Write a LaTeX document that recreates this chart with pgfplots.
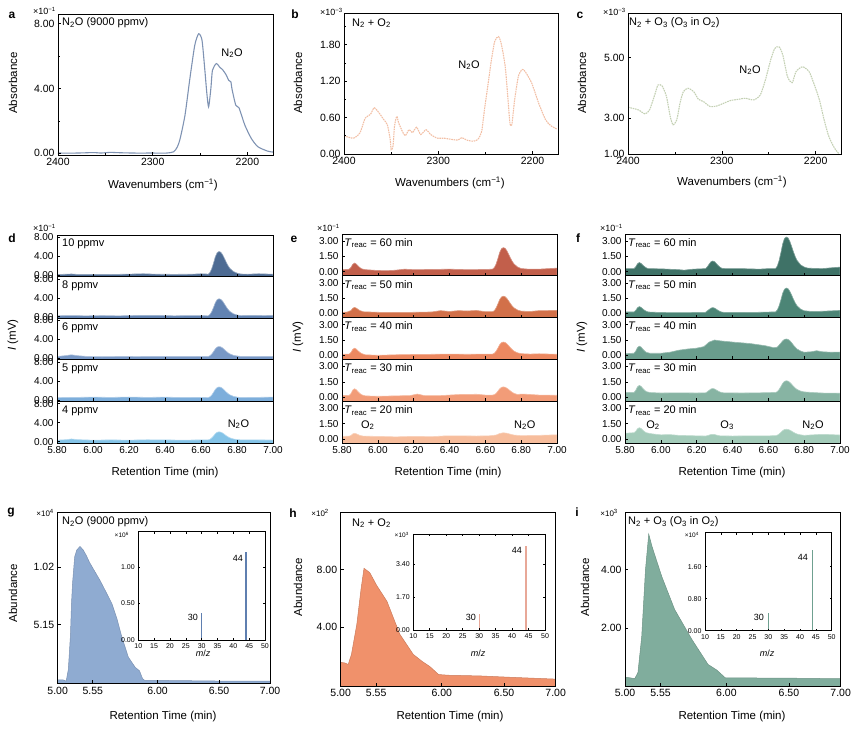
\documentclass[border=0pt]{standalone}
\usepackage{fontspec}
\setmainfont{Liberation Sans}
\usepackage{pgfplots}
\pgfplotsset{compat=1.18}
\definecolor{aline}{HTML}{7F93B3}
\definecolor{bline}{HTML}{F2BFA5}
\definecolor{cline}{HTML}{C3D0B3}
\definecolor{dA}{HTML}{4D6B93}\definecolor{dB}{HTML}{6283B2}\definecolor{dC}{HTML}{7898C6}\definecolor{dD}{HTML}{7DAEDB}\definecolor{dE}{HTML}{84C3E7}
\definecolor{eA}{HTML}{C25F4B}\definecolor{eB}{HTML}{D27049}\definecolor{eC}{HTML}{EC8860}\definecolor{eD}{HTML}{F29C78}\definecolor{eE}{HTML}{F7BD9C}
\definecolor{fA}{HTML}{3F7267}\definecolor{fB}{HTML}{4C8576}\definecolor{fC}{HTML}{6A9D8D}\definecolor{fD}{HTML}{87B4A3}\definecolor{fE}{HTML}{A3CBB9}
\definecolor{gF}{HTML}{8FABD1}\definecolor{hF}{HTML}{F0916B}\definecolor{iF}{HTML}{80AD9D}
\definecolor{gB}{HTML}{5F7FB0}\definecolor{hB}{HTML}{E8A898}\definecolor{iB}{HTML}{6FA090}
\newcommand{\lab}{\fontsize{11.5}{12}\selectfont}
\newcommand{\inn}{\fontsize{11}{12}\selectfont}
\newcommand{\sml}{\fontsize{9}{10}\selectfont}
\newcommand{\letter}{\fontsize{12}{13}\selectfont\bfseries}
\pgfplotsset{
 base/.style={scale only axis, anchor=north west, axis on top,
   axis line style={line width=0.8pt,black},
   tick align=inside, major tick length=3pt, minor tick length=1.8pt,
   every tick/.append style={black,line width=0.6pt},
   xtick pos=bottom, ytick pos=left,
   tick label style={font=\fontsize{10.5}{11}\selectfont},
   /pgf/number format/assume math mode=true},
 spec/.style={base, x dir=reverse, xmin=2173, xmax=2400, xtick={2200,2300,2400}, xticklabels={2200,2300,2400}, minor xtick={2250,2350}},
 stk/.style={base, xmin=5.8, xmax=7.0, xtick={5.8,6.0,6.2,6.4,6.6,6.8,7.0}, xticklabels={}, tick label style={font=\fontsize{10}{10}\selectfont}},
 stkd/.style={stk, width=216pt, height=41.6pt, ymin=-0.3, ymax=8.5, ytick={0,4,8}, yticklabels={0.00,4.00,8.00}},
 stke/.style={stk, width=215pt, height=41.8pt, ymin=-0.4, ymax=3.7, ytick={0,1.5,3}, yticklabels={0.00,1.50,3.00}},
 botx/.style={xticklabels={5.80,6.00,6.20,6.40,6.60,6.80,7.00}},
 ret/.style={base, xmin=5.0, xmax=7.0, ymin=0, xtick={5.0,5.33,5.94,6.52,7.0}, xticklabels={5.00,5.55,6.00,6.50,7.00}},
 ins/.style={base, xmin=10, xmax=50, ymin=0, xtick={10,15,20,25,30,35,40,45,50}, xticklabels={10,15,20,25,30,35,40,45,50},
   xtick pos=both, ytick pos=both, major tick length=2pt, axis background/.style={fill=white},
   tick label style={font=\fontsize{7}{7}\selectfont}, axis line style={line width=0.7pt,black}},
}
\begin{document}
\begin{tikzpicture}
\path[use as bounding box] (0,0) rectangle (864pt,730pt);
% ---------------- a ----------------
\begin{axis}[spec, at={(58pt,716pt)}, width=215pt, height=141pt, ymin=-0.1, ymax=8.6, ytick={0,4,8}, yticklabels={0.00,4.00,8.00}, minor ytick={2,6}]
\addplot[aline, line width=1.1pt, smooth, tension=0.4] coordinates {
(2400,0.02) (2380,0.02) (2362,0.05) (2355,0.02) (2345,0.06) (2335,0.04) (2320,0.02) (2300,0.02) (2285,0.02)
(2277.8,0.1) (2274,0.4) (2271,0.92) (2265.9,2.36) (2260.8,4.6) (2255.6,6.67) (2251.5,7.38) (2248,7.0) (2245.4,5.44)
(2243,3.8) (2241,2.87) (2238.6,4.0) (2236.9,5.13) (2232.8,5.54) (2229,5.3) (2226.6,5.19) (2222.5,4.85) (2219.8,4.51) (2217.4,4.41)
(2216.4,4.0) (2212.3,2.97) (2208.9,2.81) (2202.7,1.74) (2195.9,0.92) (2189,0.41) (2178.8,0.14) (2173,0.08)};
\end{axis}
% ---------------- b ----------------
\begin{axis}[spec, at={(344pt,717pt)}, width=214pt, height=141pt, ymin=0, ymax=2.32, ytick={0,0.6,1.2,1.8}, yticklabels={0.00,0.60,1.20,1.80}, minor ytick={0.3,0.9,1.5,2.1}]
\addplot[bline, line width=1.1pt, dash pattern=on 1.6pt off 0.8pt, smooth, tension=0.4] coordinates {
(2400,0.30) (2390,0.26) (2383,0.35) (2377.5,0.59) (2372,0.65) (2368,0.76) (2363,0.68) (2358,0.57) (2354,0.48) (2351,0.24)
(2350,0.07) (2348,0.13) (2346.4,0.46) (2344,0.62) (2342,0.51) (2338,0.37) (2335,0.30) (2331,0.40) (2327.5,0.35) (2323,0.44)
(2318.6,0.32) (2313,0.40) (2308,0.32) (2301,0.26) (2294,0.26) (2286,0.24) (2279,0.23) (2275,0.27) (2270,0.23) (2263,0.21)
(2258,0.24) (2254,0.37) (2251,0.73) (2247,1.17) (2243.6,1.55) (2240,1.86) (2236,1.93) (2233,1.80) (2229,1.44) (2226,0.89)
(2224,0.51) (2222,0.48) (2219,0.89) (2215,1.28) (2211,1.39) (2208,1.36) (2201,1.17) (2193.6,0.84) (2186.4,0.57) (2181,0.47) (2174,0.41)};
\end{axis}
% ---------------- c ----------------
\begin{axis}[spec, at={(628pt,717pt)}, width=213pt, height=141pt, ymin=0, ymax=4.25, ytick={0,1.08,2.90}, yticklabels={1.00,3.00,5.00}]
\addplot[cline, line width=1.1pt, dash pattern=on 1.6pt off 0.8pt, smooth, tension=0.4] coordinates {
(2400,1.41) (2389,1.33) (2382,1.21) (2377,1.33) (2371,1.83) (2368,2.08) (2363.6,2.05) (2359,1.73) (2355,1.13) (2352,0.88)
(2348,1.03) (2344.6,1.53) (2341,1.88) (2336,1.98) (2330,1.88) (2325,1.65) (2319.6,1.58) (2312.5,1.43) (2305,1.45) (2298,1.53)
(2291,1.61) (2282,1.65) (2275,1.68) (2266,1.63) (2259,1.78) (2253.6,2.23) (2248,2.83) (2243.6,3.18) (2239,3.23) (2235,2.98)
(2230,2.33) (2225,2.15) (2221,2.48) (2214,2.63) (2207,2.48) (2202,2.13) (2196,1.63) (2191,1.03) (2186,0.53) (2180,0.18) (2175,0.0)};
\end{axis}
% ---------------- d ----------------
\begin{axis}[stkd, at={(57pt,495pt)}]
\addplot[fill=dA, draw=dA!60!white, line width=0.6pt] coordinates {(5.80,-0.3) (5.80,0.15) (5.85,0.2) (5.88,0.25) (5.92,0.15) (6.00,0.18) (6.10,0.15) (6.20,0.22) (6.28,0.3) (6.35,0.2) (6.45,0.18) (6.55,0.2) (6.60,0.3) (6.63,0.25) (6.64,0.2) (6.65,0.58) (6.66,1.4) (6.67,2.6) (6.68,3.94) (6.69,4.76) (6.70,5.0) (6.71,4.86) (6.72,4.33) (6.73,3.56) (6.74,2.74) (6.75,2.02) (6.76,1.45) (6.78,0.78) (6.80,0.44) (6.82,0.25) (6.86,0.2) (6.92,0.3) (7.00,0.2) (7.00,-0.3)};
\node[anchor=west, inner sep=0pt, font=\inn] at (rel axis cs:0.023,0.78) {10 ppmv};
\end{axis}
\begin{axis}[stkd, at={(57pt,453.4pt)}]
\addplot[fill=dB, draw=dB!60!white, line width=0.6pt] coordinates {(5.80,-0.3) (5.80,0.2) (5.88,0.25) (5.95,0.2) (6.05,0.22) (6.15,0.2) (6.25,0.28) (6.35,0.3) (6.45,0.2) (6.55,0.25) (6.62,0.22) (6.64,0.2) (6.65,0.49) (6.66,1.1) (6.67,2.0) (6.68,3.01) (6.69,3.62) (6.70,3.8) (6.71,3.69) (6.72,3.3) (6.73,2.72) (6.74,2.11) (6.75,1.57) (6.76,1.14) (6.78,0.63) (6.80,0.38) (6.82,0.25) (6.88,0.3) (6.95,0.25) (7.00,0.28) (7.00,-0.3)};
\node[anchor=west, inner sep=0pt, font=\inn] at (rel axis cs:0.023,0.78) {8 ppmv};
\end{axis}
\begin{axis}[stkd, at={(57pt,411.8pt)}]
\addplot[fill=dC, draw=dC!60!white, line width=0.6pt] coordinates {(5.80,-0.3) (5.80,0.4) (5.84,0.55) (5.88,0.75) (5.92,0.55) (5.97,0.4) (6.05,0.35) (6.15,0.4) (6.25,0.38) (6.35,0.42) (6.45,0.4) (6.55,0.4) (6.62,0.42) (6.64,0.4) (6.65,0.57) (6.66,0.93) (6.67,1.45) (6.68,2.04) (6.69,2.4) (6.70,2.5) (6.71,2.44) (6.72,2.21) (6.73,1.87) (6.74,1.51) (6.75,1.2) (6.76,0.95) (6.78,0.65) (6.80,0.51) (6.82,0.42) (6.90,0.4) (7.00,0.42) (7.00,-0.3)};
\node[anchor=west, inner sep=0pt, font=\inn] at (rel axis cs:0.023,0.78) {6 ppmv};
\end{axis}
\begin{axis}[stkd, at={(57pt,370.2pt)}]
\addplot[fill=dD, draw=dD!60!white, line width=0.6pt] coordinates {(5.80,-0.3) (5.80,0.5) (5.90,0.55) (6.00,0.6) (6.10,0.55) (6.20,0.62) (6.30,0.55) (6.40,0.6) (6.50,0.52) (6.60,0.55) (6.64,0.5) (6.65,0.68) (6.66,1.06) (6.67,1.63) (6.68,2.26) (6.69,2.64) (6.70,2.75) (6.71,2.68) (6.72,2.44) (6.73,2.08) (6.74,1.69) (6.75,1.36) (6.76,1.09) (6.78,0.77) (6.80,0.61) (6.82,0.52) (6.90,0.55) (7.00,0.6) (7.00,-0.3)};
\node[anchor=west, inner sep=0pt, font=\inn] at (rel axis cs:0.023,0.78) {5 ppmv};
\end{axis}
\begin{axis}[stkd, botx, at={(57pt,328.6pt)}]
\addplot[fill=dE, draw=dE!60!white, line width=0.6pt] coordinates {(5.80,-0.3) (5.80,0.3) (5.85,0.4) (5.88,0.55) (5.92,0.4) (6.00,0.3) (6.10,0.35) (6.20,0.3) (6.30,0.38) (6.40,0.35) (6.50,0.3) (6.60,0.35) (6.64,0.35) (6.65,0.49) (6.66,0.78) (6.67,1.2) (6.68,1.68) (6.69,1.97) (6.70,2.05) (6.71,2.0) (6.72,1.81) (6.73,1.54) (6.74,1.25) (6.75,1.0) (6.76,0.79) (6.78,0.55) (6.80,0.44) (6.82,0.36) (6.90,0.35) (7.00,0.32) (7.00,-0.3)};
\node[anchor=west, inner sep=0pt, font=\inn] at (rel axis cs:0.023,0.78) {4 ppmv};
\node[font=\inn] at (rel axis cs:0.84,0.45) {N\textsubscript{2}O};
\end{axis}
% ---------------- e ----------------
\begin{axis}[stke, at={(342pt,496pt)}]
\addplot[fill=eA, draw=eA!70!white, line width=0.6pt] coordinates {(5.80,-0.4) (5.80,0.2) (5.83,0.22) (5.84,0.25) (5.85,0.42) (5.86,0.72) (5.87,0.85) (5.88,0.75) (5.89,0.56) (5.90,0.4) (5.91,0.28) (5.93,0.2) (6.00,0.12) (6.05,0.1) (6.10,0.15) (6.15,0.25) (6.20,0.2) (6.30,0.22) (6.40,0.25) (6.50,0.2) (6.60,0.22) (6.64,0.25) (6.65,0.4) (6.66,0.74) (6.67,1.28) (6.68,1.88) (6.69,2.25) (6.70,2.36) (6.71,2.3) (6.72,2.06) (6.73,1.71) (6.74,1.34) (6.75,1.02) (6.76,0.76) (6.78,0.46) (6.80,0.31) (6.84,0.25) (6.90,0.25) (6.95,0.3) (7.00,0.35) (7.00,-0.4)};
\node[anchor=west, inner sep=0pt, font=\inn] at (rel axis cs:0.01,0.78) {\textit{T}\textsubscript{reac} = 60 min};
\end{axis}
\begin{axis}[stke, at={(342pt,454.2pt)}]
\addplot[fill=eB, draw=eB!70!white, line width=0.6pt] coordinates {(5.80,-0.4) (5.80,0.1) (5.83,0.15) (5.85,0.29) (5.86,0.51) (5.87,0.6) (5.88,0.53) (5.89,0.4) (5.90,0.29) (5.92,0.17) (6.00,0.12) (6.10,0.1) (6.20,0.12) (6.30,0.15) (6.35,0.28) (6.40,0.2) (6.45,0.28) (6.50,0.25) (6.55,0.3) (6.60,0.18) (6.64,0.18) (6.65,0.27) (6.66,0.54) (6.67,0.93) (6.68,1.36) (6.69,1.62) (6.70,1.7) (6.71,1.65) (6.72,1.48) (6.73,1.24) (6.74,0.97) (6.75,0.74) (6.76,0.55) (6.78,0.34) (6.80,0.23) (6.85,0.2) (6.90,0.28) (7.00,0.3) (7.00,-0.4)};
\node[anchor=west, inner sep=0pt, font=\inn] at (rel axis cs:0.01,0.78) {\textit{T}\textsubscript{reac} = 50 min};
\end{axis}
\begin{axis}[stke, at={(342pt,412.4pt)}]
\addplot[fill=eC, draw=eC!70!white, line width=0.6pt] coordinates {(5.80,-0.4) (5.80,0.1) (5.84,0.12) (5.85,0.28) (5.86,0.58) (5.87,0.7) (5.88,0.61) (5.89,0.43) (5.90,0.28) (5.91,0.17) (5.93,0.05) (6.00,0.0) (6.10,0.05) (6.20,0.08) (6.30,0.1) (6.40,0.12) (6.50,0.1) (6.60,0.12) (6.64,0.12) (6.65,0.2) (6.66,0.4) (6.67,0.7) (6.68,1.04) (6.69,1.24) (6.70,1.3) (6.71,1.26) (6.72,1.13) (6.73,0.94) (6.74,0.74) (6.75,0.56) (6.76,0.41) (6.78,0.24) (6.80,0.16) (6.85,0.12) (6.90,0.15) (7.00,0.1) (7.00,-0.4)};
\node[anchor=west, inner sep=0pt, font=\inn] at (rel axis cs:0.01,0.78) {\textit{T}\textsubscript{reac} = 40 min};
\end{axis}
\begin{axis}[stke, at={(342pt,370.6pt)}]
\addplot[fill=eD, draw=eD!70!white, line width=0.6pt] coordinates {(5.80,-0.4) (5.80,0.15) (5.84,0.17) (5.85,0.35) (5.86,0.69) (5.87,0.82) (5.88,0.72) (5.89,0.52) (5.90,0.35) (5.91,0.23) (5.93,0.12) (6.00,0.08) (6.10,0.12) (6.18,0.15) (6.22,0.3) (6.26,0.15) (6.35,0.15) (6.45,0.25) (6.55,0.28) (6.60,0.2) (6.64,0.2) (6.65,0.24) (6.66,0.36) (6.67,0.58) (6.68,0.81) (6.69,0.96) (6.70,1.0) (6.71,0.97) (6.72,0.88) (6.73,0.75) (6.74,0.6) (6.75,0.47) (6.76,0.37) (6.78,0.25) (6.80,0.3) (6.83,0.28) (6.90,0.2) (7.00,0.18) (7.00,-0.4)};
\node[anchor=west, inner sep=0pt, font=\inn] at (rel axis cs:0.01,0.78) {\textit{T}\textsubscript{reac} = 30 min};
\end{axis}
\begin{axis}[stke, botx, at={(342pt,328.8pt)}]
\addplot[fill=eE, draw=eE!70!white, line width=0.6pt] coordinates {(5.80,-0.4) (5.80,0.25) (5.84,0.27) (5.85,0.34) (5.86,0.49) (5.87,0.55) (5.88,0.5) (5.89,0.42) (5.90,0.34) (5.92,0.27) (6.00,0.25) (6.10,0.2) (6.20,0.25) (6.30,0.22) (6.38,0.3) (6.45,0.3) (6.55,0.28) (6.62,0.3) (6.66,0.38) (6.68,0.53) (6.70,0.6) (6.72,0.56) (6.74,0.46) (6.76,0.38) (6.80,0.32) (6.90,0.35) (7.00,0.4) (7.00,-0.4)};
\node[anchor=west, inner sep=0pt, font=\inn] at (rel axis cs:0.01,0.78) {\textit{T}\textsubscript{reac} = 20 min};
\node[font=\inn] at (rel axis cs:0.12,0.43) {O\textsubscript{2}};
\node[font=\inn] at (rel axis cs:0.85,0.43) {N\textsubscript{2}O};
\end{axis}
% ---------------- f ----------------
\begin{axis}[stke, at={(625pt,496pt)}]
\addplot[fill=fA, draw=fA!70!white, line width=0.6pt] coordinates {(5.80,-0.4) (5.80,0.3) (5.85,0.3) (5.86,0.48) (5.87,0.78) (5.88,0.9) (5.89,0.81) (5.90,0.63) (5.91,0.48) (5.92,0.37) (5.93,0.3) (6.00,0.28) (6.10,0.2) (6.13,0.15) (6.18,0.25) (6.25,0.3) (6.26,0.49) (6.27,0.75) (6.28,0.98) (6.29,1.05) (6.30,0.98) (6.31,0.79) (6.32,0.6) (6.33,0.45) (6.34,0.34) (6.36,0.3) (6.45,0.3) (6.55,0.25) (6.60,0.3) (6.64,0.3) (6.65,0.55) (6.66,1.08) (6.67,1.85) (6.68,2.72) (6.69,3.25) (6.70,3.4) (6.71,3.31) (6.72,2.97) (6.73,2.47) (6.74,1.94) (6.75,1.48) (6.76,1.11) (6.78,0.67) (6.80,0.46) (6.82,0.35) (6.90,0.3) (6.95,0.38) (7.00,0.45) (7.00,-0.4)};
\node[anchor=west, inner sep=0pt, font=\inn] at (rel axis cs:0.014,0.78) {\textit{T}\textsubscript{reac} = 60 min};
\end{axis}
\begin{axis}[stke, at={(625pt,454.2pt)}]
\addplot[fill=fB, draw=fB!70!white, line width=0.6pt] coordinates {(5.80,-0.4) (5.80,0.15) (5.85,0.15) (5.86,0.31) (5.87,0.57) (5.88,0.68) (5.89,0.6) (5.90,0.44) (5.91,0.31) (5.92,0.21) (5.93,0.15) (6.00,0.1) (6.10,0.08) (6.20,0.1) (6.25,0.12) (6.26,0.27) (6.27,0.4) (6.28,0.53) (6.29,0.58) (6.30,0.53) (6.31,0.42) (6.32,0.3) (6.33,0.21) (6.34,0.14) (6.36,0.1) (6.45,0.1) (6.55,0.12) (6.62,0.15) (6.64,0.15) (6.65,0.34) (6.66,0.74) (6.67,1.33) (6.68,1.98) (6.69,2.38) (6.70,2.5) (6.71,2.43) (6.72,2.17) (6.73,1.8) (6.74,1.4) (6.75,1.04) (6.76,0.76) (6.78,0.43) (6.80,0.27) (6.84,0.2) (6.90,0.22) (7.00,0.3) (7.00,-0.4)};
\node[anchor=west, inner sep=0pt, font=\inn] at (rel axis cs:0.014,0.78) {\textit{T}\textsubscript{reac} = 50 min};
\end{axis}
\begin{axis}[stke, at={(625pt,412.4pt)}]
\addplot[fill=fC, draw=fC!70!white, line width=0.6pt] coordinates {(5.80,-0.4) (5.80,0.15) (5.84,0.2) (5.85,0.2) (5.86,0.41) (5.87,0.76) (5.88,0.9) (5.89,0.8) (5.90,0.59) (5.91,0.41) (5.92,0.28) (5.94,0.2) (6.00,0.2) (6.05,0.3) (6.10,0.5) (6.15,0.62) (6.20,0.7) (6.24,0.85) (6.27,1.3) (6.30,1.5) (6.33,1.42) (6.40,1.3) (6.50,1.15) (6.58,0.95) (6.63,0.75) (6.65,0.8) (6.66,1.0) (6.67,1.2) (6.68,1.42) (6.69,1.56) (6.70,1.6) (6.71,1.56) (6.72,1.43) (6.73,1.23) (6.74,1.0) (6.75,0.8) (6.76,0.62) (6.78,0.42) (6.80,0.3) (6.84,0.35) (6.87,0.45) (6.90,0.35) (6.95,0.3) (7.00,0.32) (7.00,-0.4)};
\node[anchor=west, inner sep=0pt, font=\inn] at (rel axis cs:0.014,0.78) {\textit{T}\textsubscript{reac} = 40 min};
\end{axis}
\begin{axis}[stke, at={(625pt,370.6pt)}]
\addplot[fill=fD, draw=fD!70!white, line width=0.6pt] coordinates {(5.80,-0.4) (5.80,0.45) (5.85,0.45) (5.86,0.66) (5.87,1.01) (5.88,1.15) (5.89,1.05) (5.90,0.84) (5.91,0.66) (5.92,0.53) (5.94,0.45) (6.00,0.4) (6.10,0.42) (6.20,0.4) (6.25,0.42) (6.26,0.53) (6.27,0.67) (6.28,0.8) (6.29,0.84) (6.30,0.8) (6.31,0.69) (6.32,0.59) (6.33,0.5) (6.35,0.42) (6.45,0.4) (6.55,0.42) (6.62,0.45) (6.64,0.45) (6.65,0.54) (6.66,0.74) (6.67,1.03) (6.68,1.35) (6.69,1.54) (6.70,1.6) (6.71,1.57) (6.72,1.44) (6.73,1.26) (6.74,1.06) (6.75,0.89) (6.76,0.75) (6.78,0.59) (6.80,0.51) (6.85,0.45) (6.90,0.4) (7.00,0.38) (7.00,-0.4)};
\node[anchor=west, inner sep=0pt, font=\inn] at (rel axis cs:0.014,0.78) {\textit{T}\textsubscript{reac} = 30 min};
\end{axis}
\begin{axis}[stke, botx, at={(625pt,328.8pt)}]
\addplot[fill=fE, draw=fE!70!white, line width=0.6pt] coordinates {(5.80,-0.4) (5.80,0.55) (5.84,0.6) (5.85,0.6) (5.86,0.75) (5.87,1.0) (5.88,1.1) (5.89,1.02) (5.90,0.85) (5.91,0.7) (5.92,0.6) (5.95,0.5) (6.00,0.4) (6.05,0.42) (6.10,0.35) (6.20,0.3) (6.25,0.28) (6.26,0.32) (6.27,0.38) (6.28,0.43) (6.29,0.45) (6.30,0.43) (6.31,0.38) (6.33,0.3) (6.40,0.28) (6.50,0.3) (6.60,0.3) (6.64,0.32) (6.65,0.37) (6.66,0.48) (6.67,0.64) (6.68,0.81) (6.69,0.92) (6.70,0.95) (6.71,0.93) (6.72,0.86) (6.73,0.76) (6.74,0.65) (6.75,0.56) (6.76,0.48) (6.78,0.4) (6.80,0.35) (6.85,0.4) (6.90,0.45) (6.95,0.42) (7.00,0.38) (7.00,-0.4)};
\node[anchor=west, inner sep=0pt, font=\inn] at (rel axis cs:0.014,0.78) {\textit{T}\textsubscript{reac} = 20 min};
\node[font=\inn] at (rel axis cs:0.13,0.43) {O\textsubscript{2}};
\node[font=\inn] at (rel axis cs:0.475,0.43) {O\textsubscript{3}};
\node[font=\inn] at (rel axis cs:0.875,0.43) {N\textsubscript{2}O};
\end{axis}
% ---------------- g ----------------
\begin{axis}[ret, at={(57.7pt,217.7pt)}, width=212.3pt, height=171pt, ymax=1.5, ytick={0.515,1.02}, yticklabels={5.15,1.02}]
\addplot[fill=gF, draw=gF!85!black, line width=0.5pt] coordinates {(5.00,0) (5.00,0.03) (5.05,0.03) (5.08,0.02) (5.10,0.12) (5.12,0.42) (5.13,0.70) (5.14,0.88) (5.16,1.11) (5.18,1.17) (5.21,1.2) (5.24,1.17) (5.27,1.12) (5.30,1.06) (5.35,0.98) (5.40,0.90) (5.45,0.81) (5.51,0.70) (5.56,0.56) (5.60,0.42) (5.665,0.23) (5.73,0.14) (5.77,0.11) (5.80,0.04) (5.82,0.025) (6.0,0.025) (6.5,0.02) (7.0,0.02) (7.0,0)};
\end{axis}
\begin{axis}[ins, at={(138.3pt,198.3pt)}, width=126.7pt, height=108.3pt, ymax=1.48, ytick={0,0.5,1.0}, yticklabels={0.00,0.50,1.00}]
\addplot[ycomb, gB, line width=1.1pt] coordinates {(30,0.37) (44,1.2)};
\end{axis}
% ---------------- h ----------------
\begin{axis}[ret, at={(340.7pt,217.7pt)}, width=215pt, height=173.7pt, ymin=-0.1, ymax=12, ytick={4,8}, yticklabels={4.00,8.00}]
\addplot[fill=hF, draw=hF!85!black, line width=0.5pt] coordinates {(5.00,-0.1) (5.00,1.55) (5.04,1.5) (5.07,1.4) (5.10,2.1) (5.15,4.2) (5.19,6.7) (5.217,8.1) (5.27,7.8) (5.335,6.9) (5.43,5.8) (5.55,3.5) (5.675,2.1) (5.76,1.6) (5.83,1.25) (5.91,0.7) (6.0,0.65) (6.3,0.6) (6.6,0.5) (7.0,0.38) (7.0,-0.1)};
\end{axis}
\begin{axis}[ins, at={(413.3pt,196pt)}, width=131.7pt, height=96pt, ymax=4.95, ytick={0,1.7,3.4}, yticklabels={0.00,1.70,3.40}]
\addplot[ycomb, hB, line width=1.3pt] coordinates {(30,0.82) (44.2,4.33)};
\end{axis}
% ---------------- i ----------------
\begin{axis}[ret, at={(625pt,217.7pt)}, width=215.7pt, height=173.7pt, ymin=0, ymax=5.97, ytick={2,4}, yticklabels={2.00,4.00}]
\addplot[fill=iF, draw=iF!85!black, line width=0.5pt] coordinates {(5.00,0) (5.00,0.3) (5.05,0.28) (5.09,0.25) (5.12,0.46) (5.155,1.7) (5.19,4.0) (5.22,5.22) (5.25,4.8) (5.34,3.77) (5.46,2.63) (5.62,1.6) (5.77,0.74) (5.85,0.55) (5.93,0.28) (6.5,0.27) (7.0,0.25) (7.0,0)};
\end{axis}
\begin{axis}[ins, at={(705pt,197.3pt)}, width=126.7pt, height=98pt, ymax=2.45, ytick={0,0.8,1.6}, yticklabels={0.00,0.80,1.60}]
\addplot[ycomb, iB, line width=1.1pt] coordinates {(30,0.45) (43.9,2.02)};
\end{axis}
% ---------------- texts ----------------
\node[font=\letter] at (12pt,715pt) {a};
\node[font=\letter] at (295pt,716pt) {b};
\node[font=\letter] at (580pt,715pt) {c};
\node[font=\letter] at (12pt,492pt) {d};
\node[font=\letter] at (294pt,491pt) {e};
\node[font=\letter] at (578pt,492pt) {f};
\node[font=\letter] at (11pt,217pt) {g};
\node[font=\letter] at (293pt,217pt) {h};
\node[font=\letter] at (577pt,218pt) {i};
% multipliers
\node[font=\sml, anchor=east, inner sep=0pt] at (56pt,719pt) {×10\textsuperscript{−1}};
\node[font=\sml, anchor=east, inner sep=0pt] at (343pt,718pt) {×10\textsuperscript{−3}};
\node[font=\sml, anchor=east, inner sep=0pt] at (626pt,718pt) {×10\textsuperscript{−3}};
\node[font=\sml, anchor=east, inner sep=0pt] at (56pt,502pt) {×10\textsuperscript{−1}};
\node[font=\sml, anchor=east, inner sep=0pt] at (340pt,502pt) {×10\textsuperscript{−1}};
\node[font=\sml, anchor=east, inner sep=0pt] at (623pt,502pt) {×10\textsuperscript{−1}};
\node[font=\fontsize{8}{9}\selectfont, anchor=east, inner sep=0pt] at (54pt,217pt) {×10\textsuperscript{4}};
\node[font=\fontsize{8}{9}\selectfont, anchor=east, inner sep=0pt] at (329pt,217pt) {×10\textsuperscript{2}};
\node[font=\fontsize{8}{9}\selectfont, anchor=east, inner sep=0pt] at (618pt,217pt) {×10\textsuperscript{3}};
\node[font=\fontsize{6.5}{7}\selectfont, anchor=east, inner sep=0pt] at (129pt,195pt) {×10\textsuperscript{6}};
\node[font=\fontsize{6.5}{7}\selectfont, anchor=east, inner sep=0pt] at (409pt,195pt) {×10\textsuperscript{3}};
\node[font=\fontsize{6.5}{7}\selectfont, anchor=east, inner sep=0pt] at (699pt,195pt) {×10\textsuperscript{4}};
% axis labels
\node[font=\lab, rotate=90] at (13pt,647pt) {Absorbance};
\node[font=\lab, rotate=90] at (298pt,647pt) {Absorbance};
\node[font=\lab, rotate=90] at (582pt,647pt) {Absorbance};
\node[font=\lab] at (163pt,545pt) {Wavenumbers (cm\textsuperscript{−1})};
\node[font=\lab] at (450pt,547pt) {Wavenumbers (cm\textsuperscript{−1})};
\node[font=\lab] at (732pt,548pt) {Wavenumbers (cm\textsuperscript{−1})};
\node[font=\lab, rotate=90] at (13pt,395pt) {\textit{I} (mV)};
\node[font=\lab, rotate=90] at (298pt,393pt) {\textit{I} (mV)};
\node[font=\lab, rotate=90] at (582pt,393pt) {\textit{I} (mV)};
\node[font=\lab] at (165pt,257pt) {Retention Time (min)};
\node[font=\lab] at (448pt,257pt) {Retention Time (min)};
\node[font=\lab] at (732pt,257pt) {Retention Time (min)};
\node[font=\lab, rotate=90] at (13pt,137pt) {Abundance};
\node[font=\lab, rotate=90] at (298pt,143pt) {Abundance};
\node[font=\lab, rotate=90] at (585pt,143pt) {Abundance};
\node[font=\lab] at (163pt,13pt) {Retention Time (min)};
\node[font=\lab] at (450pt,13pt) {Retention Time (min)};
\node[font=\lab] at (732pt,13pt) {Retention Time (min)};
% inner texts
\node[font=\inn, anchor=west, inner sep=0pt] at (62pt,707pt) {N\textsubscript{2}O (9000 ppmv)};
\node[font=\inn] at (232pt,677pt) {N\textsubscript{2}O};
\node[font=\inn, anchor=west, inner sep=0pt] at (352pt,707pt) {N\textsubscript{2} + O\textsubscript{2}};
\node[font=\inn] at (469pt,665pt) {N\textsubscript{2}O};
\node[font=\inn, anchor=west, inner sep=0pt] at (629pt,707pt) {N\textsubscript{2} + O\textsubscript{3} (O\textsubscript{3} in O\textsubscript{2})};
\node[font=\inn] at (750pt,660pt) {N\textsubscript{2}O};
\node[font=\inn, anchor=west, inner sep=0pt] at (62pt,208pt) {N\textsubscript{2}O (9000 ppmv)};
\node[font=\inn, anchor=west, inner sep=0pt] at (352pt,207pt) {N\textsubscript{2} + O\textsubscript{2}};
\node[font=\inn, anchor=west, inner sep=0pt] at (628pt,208pt) {N\textsubscript{2} + O\textsubscript{3} (O\textsubscript{3} in O\textsubscript{2})};
% inset texts
\node[font=\sml, anchor=east, inner sep=1pt] at (199pt,113pt) {30};
\node[font=\sml, anchor=east, inner sep=1pt] at (244pt,172pt) {44};
\node[font=\sml, anchor=east, inner sep=1pt] at (477pt,113pt) {30};
\node[font=\sml, anchor=east, inner sep=1pt] at (523pt,180pt) {44};
\node[font=\sml, anchor=east, inner sep=1pt] at (765pt,113pt) {30};
\node[font=\sml, anchor=east, inner sep=1pt] at (809pt,173pt) {44};
\node[font=\sml] at (203pt,77pt) {\textit{m}/\textit{z}};
\node[font=\sml] at (478pt,77pt) {\textit{m}/\textit{z}};
\node[font=\sml] at (767pt,77pt) {\textit{m}/\textit{z}};
\end{tikzpicture}
\end{document}
